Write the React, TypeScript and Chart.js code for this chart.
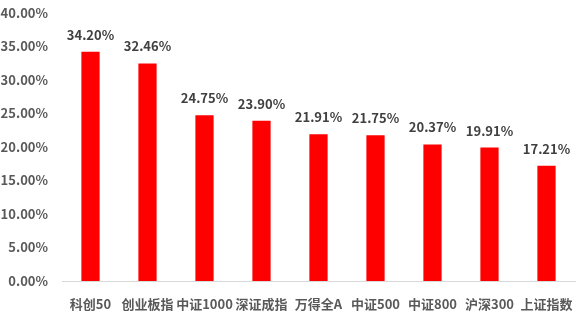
import React, { useEffect, useRef } from "react";
import { Chart, registerables } from "chart.js";

Chart.register(...registerables);

const categories = ["科创50", "创业板指", "中证1000", "深证成指", "万得全A", "中证500", "中证800", "沪深300", "上证指数"];
const values = [34.2, 32.46, 24.75, 23.9, 21.91, 21.75, 20.37, 19.91, 17.21];
const yTicks = [0, 5, 10, 15, 20, 25, 30, 35, 40];

const FONT = "'Noto Sans CJK SC', 'Noto Sans', sans-serif";

const dataLabels = {
  id: "dataLabels",
  afterDatasetsDraw(chart: any) {
    const ctx = chart.ctx;
    const meta = chart.getDatasetMeta(0);
    ctx.save();
    ctx.font = `bold 13px ${FONT}`;
    ctx.fillStyle = "#404040";
    ctx.textAlign = "center";
    ctx.textBaseline = "middle";
    meta.data.forEach((el: any, i: number) => {
      ctx.fillText(values[i].toFixed(2) + "%", el.x, el.y - 17);
    });
    ctx.restore();
  },
};

export default function App() {
  const ref = useRef<HTMLCanvasElement>(null);
  useEffect(() => {
    document.body.style.margin = "0";
    const chart = new Chart(ref.current!, {
      type: "bar",
      data: {
        labels: categories,
        datasets: [
          {
            data: values,
            backgroundColor: "#FF0000",
            barPercentage: 0.32,
            categoryPercentage: 1,
          },
        ],
      },
      options: {
        animation: false,
        responsive: false,
        maintainAspectRatio: false,
        layout: { padding: { top: 13, right: 4, left: 0, bottom: 0 } },
        plugins: { legend: { display: false }, tooltip: { enabled: false } },
        scales: {
          x: {
            grid: { display: false, drawTicks: false },
            border: { display: true, color: "#D9D9D9", width: 1 },
            ticks: {
              font: { family: FONT, size: 13, weight: "bold" },
              color: "#595959",
              padding: 15,
              maxRotation: 0,
              autoSkip: false,
            },
            afterFit(scale: any) {
              scale.height = 34;
              scale.paddingLeft = 0;
              scale.paddingRight = 0;
            },
          },
          y: {
            min: 0,
            max: 40,
            grid: { display: false, drawTicks: false },
            border: { display: false },
            afterBuildTicks(scale: any) {
              scale.ticks = yTicks.map((v) => ({ value: v }));
            },
            ticks: {
              font: { family: FONT, size: 13, weight: "bold" },
              color: "#595959",
              padding: 14,
              callback: (v: any) => Number(v).toFixed(2) + "%",
            },
            afterFit(scale: any) {
              scale.width = 62;
              scale.paddingTop = 0;
              scale.paddingBottom = 0;
            },
          },
        },
      },
      plugins: [dataLabels],
    });
    return () => chart.destroy();
  }, []);
  return <canvas ref={ref} width={579} height={315} style={{ display: "block" }} />;
}
